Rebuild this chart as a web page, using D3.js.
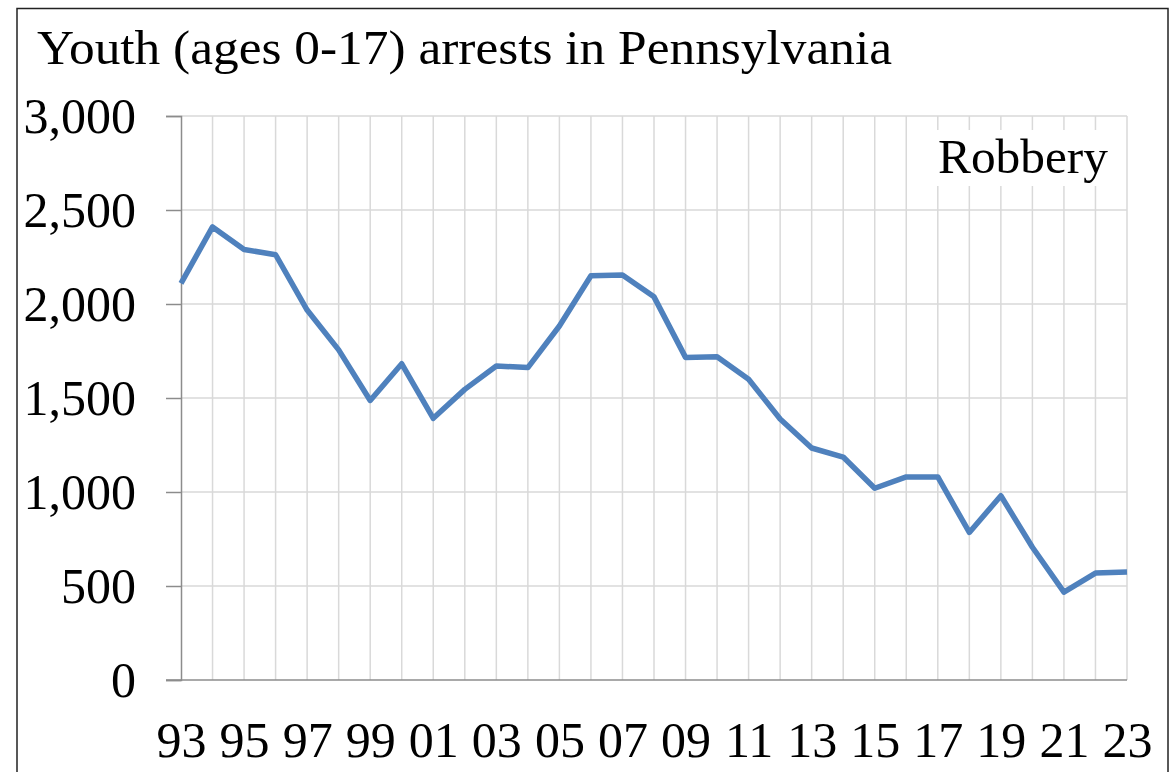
<!DOCTYPE html>
<html>
<head>
<meta charset="utf-8">
<script src="https://cdn.jsdelivr.net/npm/d3@7"></script>
<style>
  body { margin: 0; background: #fff; }
  svg text { font-family: "Liberation Serif", "DejaVu Serif", serif; fill: #000; }
</style>
</head>
<body>
<div id="root"></div>
<script>
// arrests of youth for robbery, Pennsylvania
var years = d3.range(1993, 2024);
var arrests = [2110, 2410, 2290, 2262, 1968, 1756, 1487, 1682, 1392, 1546, 1670,
               1662, 1883, 2150, 2154, 2038, 1716, 1720, 1600, 1388, 1234, 1186,
               1020, 1080, 1080, 785, 980, 706, 467, 569, 574];
var yTicks = [0, 500, 1000, 1500, 2000, 2500, 3000];
var xLabelYears = d3.range(1993, 2024, 2);

var title = "Youth (ages 0-17) arrests in Pennsylvania";
var seriesName = "Robbery";

var width = 1173, height = 772;

var svg = d3.select("#root").append("svg")
    .attr("width", width)
    .attr("height", height);

// outer frame
svg.append("rect")
    .attr("x", 17).attr("y", 8.5)
    .attr("width", 1151).attr("height", 800)
    .attr("fill", "none")
    .attr("stroke", "#222")
    .attr("stroke-width", 1.5);

var x = d3.scaleLinear().domain([1993, 2023]).range([181, 1127]);
var y = d3.scaleLinear().domain([0, 3000]).range([680, 116]);

// grid
svg.append("g").selectAll("line")
    .data(years.slice(1))
    .enter().append("line")
    .attr("x1", function(d){ return x(d); })
    .attr("x2", function(d){ return x(d); })
    .attr("y1", y(3000)).attr("y2", y(0))
    .attr("stroke", "#d9d9d9")
    .attr("stroke-width", 1.5);

svg.append("g").selectAll("line")
    .data(yTicks.slice(1))
    .enter().append("line")
    .attr("x1", x(1993)).attr("x2", x(2023))
    .attr("y1", function(d){ return y(d); })
    .attr("y2", function(d){ return y(d); })
    .attr("stroke", "#d9d9d9")
    .attr("stroke-width", 1.5);

// y axis
var yAxis = d3.axisLeft(y)
    .tickValues(yTicks)
    .tickSize(15)
    .tickPadding(30)
    .tickFormat(d3.format(","));

var gy = svg.append("g")
    .attr("transform", "translate(" + x(1993) + ",0)")
    .call(yAxis);
gy.select(".domain").attr("stroke", "#8c8c8c").attr("stroke-width", 1.5);
gy.selectAll(".tick line").attr("stroke", "#8c8c8c").attr("stroke-width", 1.5);
gy.selectAll(".tick text")
    .attr("font-size", 50)
    .attr("dy", "0.33em")
    .style("font-family", "Liberation Serif");

// x axis
var xAxis = d3.axisBottom(x)
    .tickValues(xLabelYears)
    .tickSize(0)
    .tickPadding(0)
    .tickFormat(function(d){ return d3.format("02d")(d % 100); });

var gx = svg.append("g")
    .attr("transform", "translate(0," + y(0) + ")")
    .call(xAxis);
gx.select(".domain").remove();
gx.selectAll(".tick text")
    .attr("font-size", 50)
    .attr("dy", null)
    .attr("y", 77)
    .style("font-family", "Liberation Serif");

svg.append("line")
    .attr("x1", x(1993) - 15).attr("x2", x(2023))
    .attr("y1", y(0)).attr("y2", y(0))
    .attr("stroke", "#8c8c8c")
    .attr("stroke-width", 1.5);

// series
var line = d3.line()
    .x(function(d, i){ return x(years[i]); })
    .y(function(d){ return y(d); });

svg.append("path")
    .datum(arrests)
    .attr("d", line)
    .attr("fill", "none")
    .attr("stroke", "#4f81bd")
    .attr("stroke-width", 5.5)
    .attr("stroke-linejoin", "round");

// label box
svg.append("rect")
    .attr("x", 930).attr("y", 130)
    .attr("width", 185).attr("height", 56)
    .attr("fill", "#fff");

svg.append("text")
    .attr("x", 938).attr("y", 173)
    .attr("font-size", 48)
    .attr("textLength", 170)
    .attr("lengthAdjust", "spacingAndGlyphs")
    .text(seriesName);

// title
svg.append("text")
    .attr("x", 37).attr("y", 64)
    .attr("font-size", 48)
    .attr("textLength", 855)
    .attr("lengthAdjust", "spacingAndGlyphs")
    .text(title);
</script>
</body>
</html>
